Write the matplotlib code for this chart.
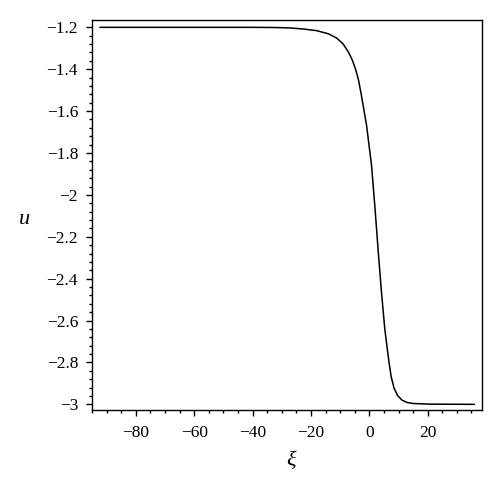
import matplotlib
matplotlib.use("Agg")
import matplotlib.pyplot as plt
from matplotlib.ticker import MultipleLocator, FuncFormatter

xi = [-92.3, -70.0, -50.0, -40.0, -32.0, -27.1, -22.6, -18.0, -14.0, -11.2, -9.0, -7.2,
      -5.8, -4.6, -3.7, -2.85, -0.95, 0.75, 1.95, 3.1, 4.2, 5.3, 6.2, 6.8, 7.5,
      8.5, 9.7, 11.2, 12.9, 15.0, 20.8, 36.0]
u = [-1.200, -1.200, -1.200, -1.200, -1.201, -1.203, -1.208, -1.216, -1.231, -1.251, -1.279, -1.317,
     -1.357, -1.405, -1.452, -1.514, -1.667, -1.858, -2.064, -2.279, -2.470, -2.640, -2.740, -2.805, -2.869,
     -2.924, -2.958, -2.980, -2.991, -2.996, -2.999, -3.000]

x_ticks = [-80, -60, -40, -20, 0, 20]
y_ticks = [-1.2, -1.4, -1.6, -1.8, -2.0, -2.2, -2.4, -2.6, -2.8, -3.0]

plt.rcParams['font.family'] = ['Liberation Serif', 'DejaVu Serif']

fig = plt.figure(figsize=(5.0, 4.92), dpi=100)
W, H = 500, 492
ax = fig.add_axes([92 / W, 1 - 410 / H, (482 - 92) / W, (410 - 20) / H])

ax.plot(xi, u, color='black', lw=1.1, solid_joinstyle='round', solid_capstyle='round')

ax.set_xlim(-95.0, 38.6)
ax.set_ylim(-3.027, -1.165)

def fmt(v, pos):
    s = ('%.1f' % v).rstrip('0').rstrip('.')
    if s in ('-0', '0'):
        return '0'
    return s.replace('-', '\u2212')

ax.set_xticks(x_ticks)
ax.set_yticks(y_ticks)
ax.xaxis.set_major_formatter(FuncFormatter(fmt))
ax.yaxis.set_major_formatter(FuncFormatter(fmt))
ax.xaxis.set_minor_locator(MultipleLocator(5))
ax.yaxis.set_minor_locator(MultipleLocator(0.04))

ax.tick_params(which='both', direction='out', top=False, right=False, width=1.0, labelsize=12.5)
ax.tick_params(which='major', length=4)
ax.tick_params(which='minor', length=2.5)
ax.tick_params(axis='y', which='major', pad=6)
ax.tick_params(axis='x', which='major', pad=6.5)

for sp in ax.spines.values():
    sp.set_linewidth(1.0)

fig.text(24 / W, 1 - 220 / H, 'u', fontsize=16, style='italic', ha='center', va='center')
fig.text(291 / W, 1 - 462 / H, '\u03be', fontsize=16, style='italic', ha='center', va='center')

fig.savefig('out.png', dpi=100)
